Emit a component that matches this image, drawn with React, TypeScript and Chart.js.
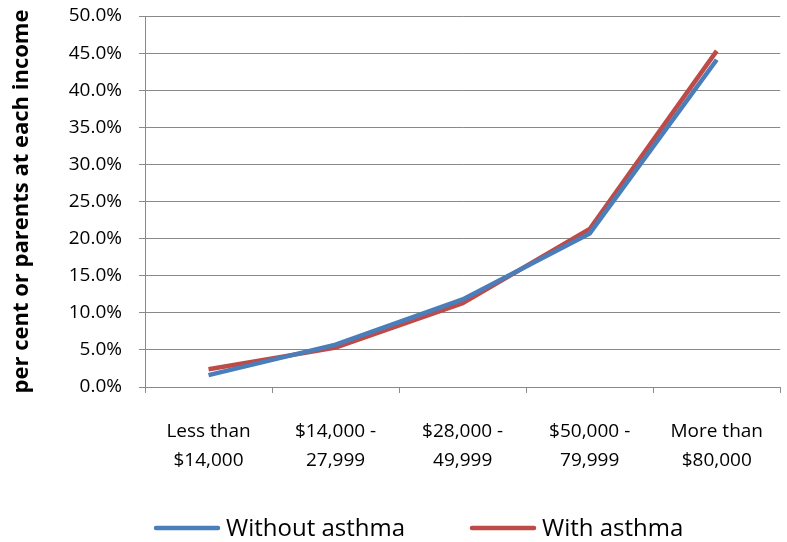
import React, { useEffect, useRef } from "react";
import { Chart, registerables } from "chart.js";

Chart.register(...registerables);

const categories: string[][] = [
  ["Less than", "$14,000"],
  ["$14,000 -", "27,999"],
  ["$28,000 -", "49,999"],
  ["$50,000 -", "79,999"],
  ["More than", "$80,000"],
];
const withoutAsthma = [1.6, 5.7, 11.8, 20.7, 44.1];
const withAsthma = [2.4, 5.3, 11.3, 21.3, 45.3];
const seriesNames = ["Without asthma", "With asthma"];
const yTitle = "per cent or parents at each income";

const GRID = "#898989";
const FONT = "'Open Sans', sans-serif";

// legend layout (item start x positions, centre y)
const LEGEND_ITEM_X = [156, 472];
const LEGEND_Y = 528;
const LEGEND_LINE = 62;
const LEGEND_GAP = 8;

const bottomLegend = {
  id: "bottomLegend",
  afterDraw(chart: any) {
    const ctx = chart.ctx;
    ctx.save();
    ctx.font = `24px ${FONT}`;
    ctx.textBaseline = "middle";
    ctx.textAlign = "left";
    chart.data.datasets.forEach((ds: any, i: number) => {
      const x = LEGEND_ITEM_X[i];
      ctx.strokeStyle = ds.borderColor;
      ctx.lineWidth = 4.5;
      ctx.lineCap = "round";
      ctx.beginPath();
      ctx.moveTo(x, LEGEND_Y);
      ctx.lineTo(x + LEGEND_LINE, LEGEND_Y);
      ctx.stroke();
      ctx.fillStyle = "#000";
      ctx.fillText(ds.label, x + LEGEND_LINE + LEGEND_GAP, LEGEND_Y + 1);
    });
    ctx.restore();
  },
};

export default function App() {
  const ref = useRef<HTMLCanvasElement | null>(null);
  useEffect(() => {
    document.body.style.margin = "0";
    const ctx = ref.current!;
    const chart = new Chart(ctx, {
      type: "line",
      data: {
        labels: categories,
        datasets: [
          {
            label: seriesNames[0],
            data: withoutAsthma,
            borderColor: "#4A7EBB",
            backgroundColor: "#4A7EBB",
            borderWidth: 4.5,
            pointRadius: 0,
            tension: 0,
          },
          {
            label: seriesNames[1],
            data: withAsthma,
            borderColor: "#BE4B48",
            backgroundColor: "#BE4B48",
            borderWidth: 4.5,
            pointRadius: 0,
            tension: 0,
          },
        ],
      },
      options: {
        animation: false,
        responsive: false,
        devicePixelRatio: 1,
        layout: { padding: { top: 0, right: 0, bottom: 0, left: 0 } },
        plugins: {
          tooltip: { enabled: false },
          legend: { display: false },
        },
        scales: {
          x: {
            offset: true,
            grid: {
              offset: true,
              drawOnChartArea: false,
              drawTicks: true,
              tickLength: 6,
              color: GRID,
            },
            border: { display: true, color: GRID, width: 1 },
            ticks: {
              color: "#000",
              font: { family: FONT, size: 19, lineHeight: 1.53 },
              padding: 24,
              maxRotation: 0,
              autoSkip: false,
            },
            afterFit: (s: any) => {
              s.height = 155;
            },
          },
          y: {
            min: 0,
            max: 50,
            grid: { color: GRID, tickLength: 6, drawTicks: true },
            border: { display: true, color: GRID, width: 1 },
            ticks: {
              stepSize: 5,
              color: "#000",
              font: { family: FONT, size: 19 },
              padding: 17,
              callback: (v: any) => Number(v).toFixed(1) + "%",
            },
            title: {
              display: true,
              text: yTitle,
              color: "#000",
              font: { family: FONT, size: 22, weight: "bold" },
              padding: { top: 9, bottom: 0 },
            },
            afterFit: (s: any) => {
              s.width = 145;
              s.paddingTop = 16;
              s.paddingBottom = 0;
            },
          },
        },
      },
      plugins: [bottomLegend],
    });
    return () => chart.destroy();
  }, []);
  return <canvas ref={ref} width={787} height={542} style={{ display: "block" }} />;
}
